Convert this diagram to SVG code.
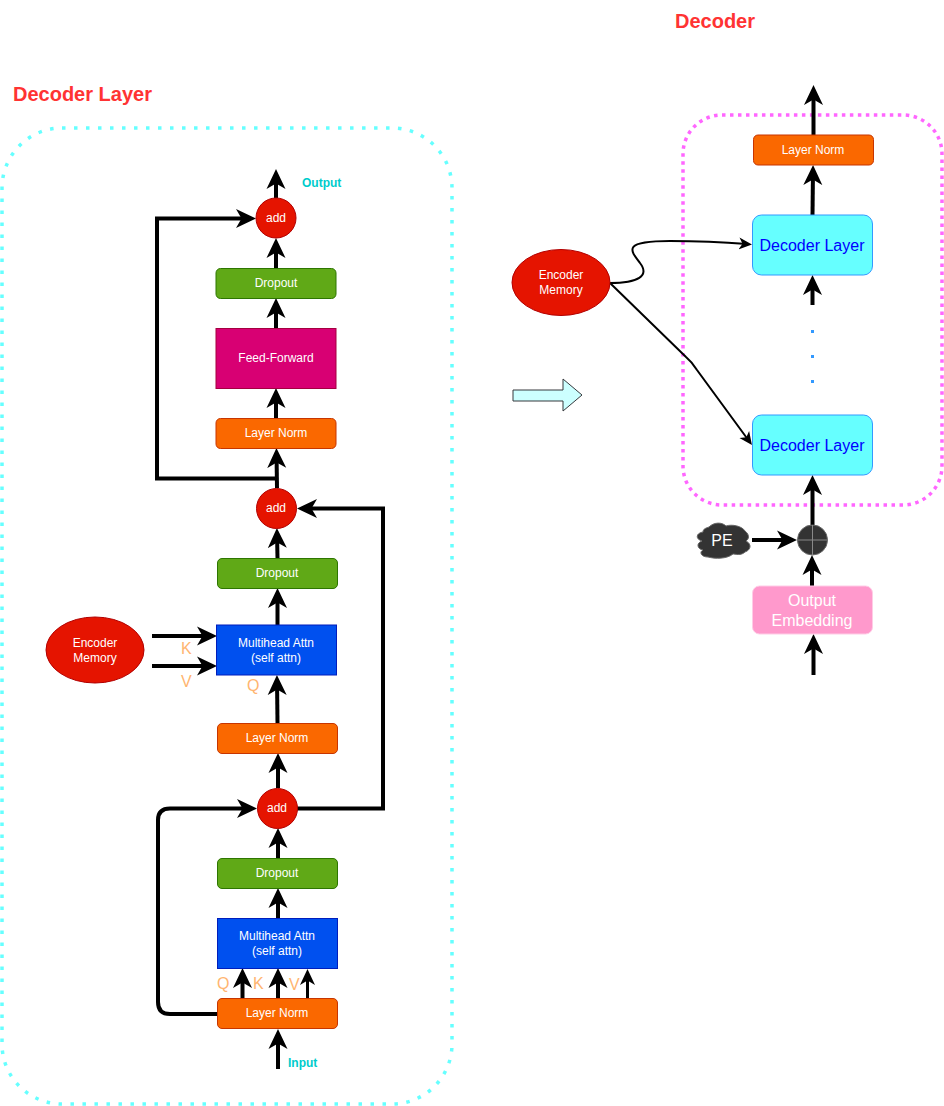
<svg xmlns="http://www.w3.org/2000/svg" width="944" height="1106" viewBox="0 0 944 1106">
<style>
text{font-family:"Liberation Sans",Arial,sans-serif;text-anchor:middle}
.t{font-size:12px;fill:#fff}
.title{font-size:20px;font-weight:bold;fill:#ff3333;text-anchor:start}
.io{font-size:12px;font-weight:bold;fill:#00cccc;text-anchor:start}
.kv{font-size:16px;fill:#ffb570;text-anchor:start}
.dl{font-size:16px;fill:#0000ff}
.w16{font-size:16px;fill:#fff}
.or{fill:#fa6800;stroke:#c73500}
.gr{fill:#60a917;stroke:#2d7600}
.mg{fill:#d80073;stroke:#a50040}
.bl{fill:#0050ef;stroke:#001dbc}
.rd{fill:#e51400;stroke:#b20000}
.cy{fill:#66ffff;stroke:#3399ff}
.c path,.c line{fill:none;stroke:#000;stroke-width:4}
.c .a{marker-end:url(#big)}
.c .s{marker-end:url(#small);stroke-width:3}
.c path.h,.c line.h{stroke-width:2;marker-end:url(#thin)}
</style>
<defs>
<marker id="big" markerUnits="userSpaceOnUse" markerWidth="20" markerHeight="20" viewBox="0 0 20 20" refX="15" refY="10" orient="auto"><path d="M0 .5 20 10 0 19.500 5.500 10Z" fill="#000"/></marker>
<marker id="small" markerUnits="userSpaceOnUse" markerWidth="16" markerHeight="16" viewBox="0 0 16 16" refX="11" refY="8" orient="auto"><path d="M0 .5 16 8 0 15.500 4.500 8Z" fill="#000"/></marker>
<marker id="thin" markerUnits="userSpaceOnUse" markerWidth="13" markerHeight="13" viewBox="0 0 13 13" refX="8" refY="6.500" orient="auto"><path d="M0 .5 13 6.500 0 12.500 3.500 6.500Z" fill="#000"/></marker>
</defs>

<g id="containers" fill="none" stroke-width="3.500">
<rect id="decoder-layer-box" x="2" y="128" width="450" height="976" rx="60" stroke="#66ffff" pathLength="2748" stroke-dasharray="3.500 8.500"/>
<rect id="decoder-box" x="683" y="115" width="259" height="390" rx="39" stroke="#ff66ff" pathLength="1232" stroke-dasharray="3.500 4.500"/>
</g>

<text class="title" x="13" y="101">Decoder Layer</text>
<text class="title" x="675" y="28">Decoder</text>
<text class="io" x="302" y="187">Output</text>
<text class="io" x="288" y="1067">Input</text>

<g id="connectors" class="c">
<line class="a" x1="276" y1="198" x2="276" y2="174"/>
<line class="a" x1="276" y1="268" x2="276" y2="243"/>
<line class="a" x1="276" y1="328" x2="276" y2="303"/>
<line class="a" x1="276" y1="418" x2="276" y2="393"/>
<line class="a" x1="277" y1="488" x2="276.500" y2="453"/>
<path class="a" d="M277 478.500H157V218.500H251"/>
<line class="a" x1="277.500" y1="558" x2="277" y2="533"/>
<line class="a" x1="277.500" y1="625" x2="277.500" y2="593"/>
<line class="a" x1="277.500" y1="723" x2="277" y2="680"/>
<line class="a" x1="278" y1="788" x2="278" y2="758"/>
<line class="a" x1="278" y1="858" x2="278" y2="833"/>
<line class="a" x1="278" y1="918" x2="278" y2="893"/>
<line class="a" x1="278" y1="998" x2="278" y2="973"/>
<line class="a" x1="242.500" y1="998" x2="242.500" y2="973"/>
<line class="s" x1="307.500" y1="998" x2="307.500" y2="974"/>
<line class="a" x1="278" y1="1069" x2="278" y2="1034"/>
<path class="a" d="M217 1014H170Q158 1014 158 1002V820Q158 808.500 170 808.500H252"/>
<path class="a" d="M297 808.500H383V508.500H302"/>
<line class="a" x1="152" y1="636" x2="212" y2="636"/>
<line class="a" x1="152" y1="666" x2="212" y2="666"/>
<line class="a" x1="813.500" y1="135" x2="813.500" y2="90"/>
<line class="a" x1="812.500" y1="215" x2="813" y2="170"/>
<line class="a" x1="812.500" y1="305" x2="812.500" y2="280"/>
<line class="a" x1="812.500" y1="525" x2="812.500" y2="480"/>
<line class="a" x1="752" y1="540" x2="792" y2="540"/>
<line class="a" x1="812" y1="586" x2="812" y2="560"/>
<line class="a" x1="813.500" y1="675" x2="813.500" y2="639"/>
<path class="h" d="M610 283C638 283 650 276 640 263C630 250 622 241 670 241C700 241 722 242 747 244"/>
<path class="h" d="M610 283L686 357Q692 362 697 370L749 441"/>
<line x1="812.500" y1="330" x2="812.500" y2="385" style="stroke:#3399ff;stroke-width:3;stroke-dasharray:3 22"/>
</g>

<g id="add-top"><circle class="rd" cx="276" cy="218" r="20"/><text class="t" x="276" y="222">add</text></g>
<g id="dropout-top"><rect class="gr" x="216" y="268.500" width="120" height="30" rx="4.500"/><text class="t" x="276" y="287">Dropout</text></g>
<g id="feed-forward"><rect class="mg" x="216" y="328.500" width="120" height="60"/><text class="t" x="276" y="362">Feed-Forward</text></g>
<g id="norm-top"><rect class="or" x="216" y="418.500" width="120" height="30" rx="4.500"/><text class="t" x="276" y="437">Layer Norm</text></g>
<g id="add-mid"><circle class="rd" cx="276.500" cy="508.500" r="20"/><text class="t" x="276" y="512">add</text></g>
<g id="dropout-mid"><rect class="gr" x="217.500" y="558.500" width="120" height="30" rx="4.500"/><text class="t" x="277" y="577">Dropout</text></g>
<g id="attn-cross"><rect class="bl" x="216.500" y="625" width="120" height="50"/><text class="t" x="276" y="647">Multihead Attn</text><text class="t" x="276" y="662">(self attn)</text></g>
<g id="norm-mid"><rect class="or" x="217.500" y="723.500" width="120" height="30" rx="4.500"/><text class="t" x="277" y="742">Layer Norm</text></g>
<g id="add-bot"><circle class="rd" cx="277.500" cy="808.500" r="20"/><text class="t" x="277" y="812">add</text></g>
<g id="dropout-bot"><rect class="gr" x="217.500" y="858.500" width="120" height="30" rx="4.500"/><text class="t" x="277" y="877">Dropout</text></g>
<g id="attn-self"><rect class="bl" x="217.500" y="918.500" width="120" height="50"/><text class="t" x="277" y="940">Multihead Attn</text><text class="t" x="277" y="955">(self attn)</text></g>
<g id="norm-bot"><rect class="or" x="217.500" y="998.500" width="120" height="30" rx="4.500"/><text class="t" x="277" y="1017">Layer Norm</text></g>
<g id="encoder-left"><ellipse class="rd" cx="95" cy="650" rx="49" ry="33"/><text class="t" x="95" y="647">Encoder</text><text class="t" x="95" y="662">Memory</text></g>

<text class="kv" x="181" y="654">K</text>
<text class="kv" x="181" y="687">V</text>
<text class="kv" x="247" y="691">Q</text>
<text class="kv" x="217" y="989">Q</text>
<text class="kv" x="253" y="989">K</text>
<text class="kv" x="289" y="990">V</text>

<g id="encoder-right"><ellipse class="rd" cx="561" cy="282.500" rx="49" ry="33"/><text class="t" x="561" y="279">Encoder</text><text class="t" x="561" y="294">Memory</text></g>
<g id="transition-arrow"><path d="M513 390H563V379L582 395 563 411V401H513Z" fill="#ccffff" stroke="#36393d"/></g>
<g id="norm-right"><rect class="or" x="753.500" y="135" width="120" height="30" rx="4.500"/><text class="t" x="813" y="154">Layer Norm</text></g>
<g id="decoder-layer-1"><rect class="cy" x="752.500" y="215" width="120" height="60" rx="9"/><text class="dl" x="812" y="251">Decoder Layer</text></g>
<g id="decoder-layer-2"><rect class="cy" x="752.500" y="415" width="120" height="60" rx="9"/><text class="dl" x="812" y="451">Decoder Layer</text></g>
<g id="pe"><path d="M708 557C701 557 699 552 703 550C697 549 696 543 702 541C695 539 696 533 703 532C703 529 706 528 709 527C714 522 722 522 726 526C732 524 742 526 745 531C750 535 749 539 746 541C752 544 751 550 745 552C741 556 735 554 733 554C727 559 715 559 708 557Z" fill="#333" stroke="#666"/><text class="w16" x="722" y="546">PE</text></g>
<g id="sum"><circle cx="812.500" cy="540" r="15" fill="#333" stroke="#666"/><path d="M797.500 540H827.500M812.500 525V555" fill="none" stroke="#888"/></g>
<g id="output-embedding"><rect x="752.500" y="586" width="120" height="48" rx="7" fill="#ff99cc" stroke="#ffcce6"/><text class="w16" x="812" y="606">Output</text><text class="w16" x="812" y="626">Embedding</text></g>
</svg>
